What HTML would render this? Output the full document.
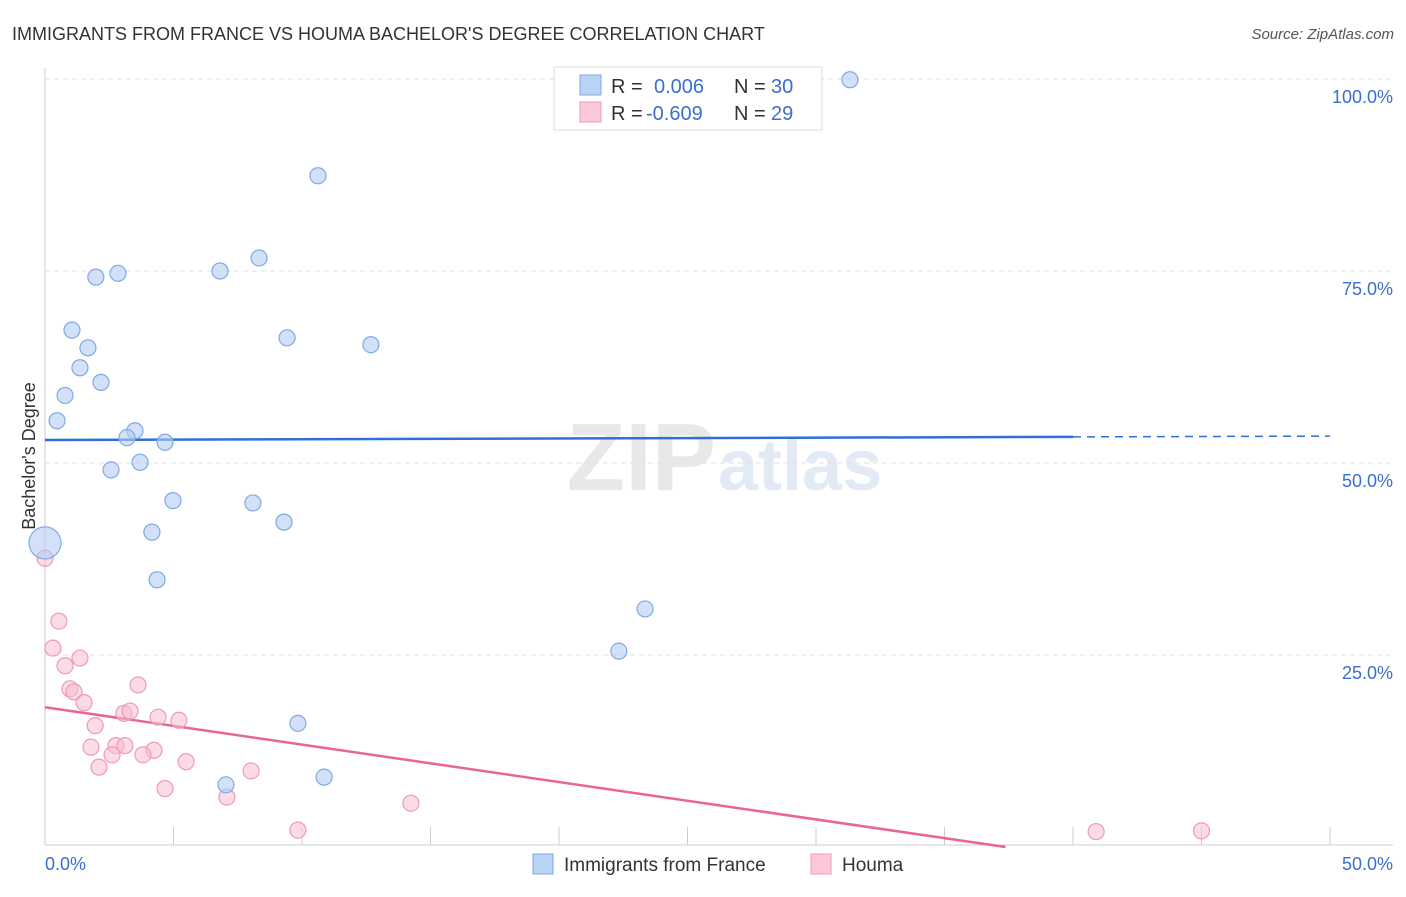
<!DOCTYPE html>
<html><head><meta charset="utf-8"><style>
body{margin:0;background:#fff;font-family:"Liberation Sans",sans-serif}
svg text{font-family:"Liberation Sans",sans-serif}
</style></head><body>
<svg id="chart" width="1406" height="892" xmlns="http://www.w3.org/2000/svg">
<text x="12" y="40" font-size="18" fill="#333">IMMIGRANTS FROM FRANCE VS HOUMA BACHELOR'S DEGREE CORRELATION CHART</text>
<text x="1394" y="39" font-size="15" fill="#555" font-style="italic" text-anchor="end">Source: ZipAtlas.com</text>
<text x="716" y="490" font-size="96" fill="#e8e8e8" font-family="Liberation Serif" text-anchor="end" font-weight="bold">ZIP</text>
<text x="718" y="490" font-size="72" fill="#e2eaf6" font-weight="bold">atlas</text>
<g id="grid"></g>
<line x1="45" y1="68" x2="45" y2="845" stroke="#ccc"/>
<line x1="45" y1="845" x2="1393" y2="845" stroke="#ccc"/>
<text x="35" y="456" font-size="18" fill="#333" text-anchor="middle" transform="rotate(-90 35 456)">Bachelor's Degree</text>
<g id="trend"></g>
<g id="pts"></g>
<g>
<rect x="554" y="67" width="268" height="63" fill="#fff" stroke="#ddd"/>
<rect x="580" y="75" width="21" height="20" fill="#b9d3f5" stroke="#7fa9e6"/>
<rect x="580" y="102" width="21" height="20" fill="#fac8d6" stroke="#f09ab5"/>
<text x="611" y="93" font-size="20" fill="#333">R =</text>
<text x="654" y="93" font-size="20" fill="#3a6fd0">0.006</text>
<text x="734" y="93" font-size="20" fill="#333">N =</text>
<text x="771" y="93" font-size="20" fill="#3a6fd0">30</text>
<text x="611" y="120" font-size="20" fill="#333">R =</text>
<text x="646" y="120" font-size="20" fill="#3a6fd0">-0.609</text>
<text x="734" y="120" font-size="20" fill="#333">N =</text>
<text x="771" y="120" font-size="20" fill="#3a6fd0">29</text>
</g>
<g>
<rect x="533" y="854" width="20" height="20" fill="#b9d3f5" stroke="#7fa9e6"/>
<text x="564" y="871" font-size="19" fill="#333">Immigrants from France</text>
<rect x="811" y="854" width="20" height="20" fill="#fac8d6" stroke="#f09ab5"/>
<text x="842" y="871" font-size="19" fill="#333">Houma</text>
</g>
<text x="45" y="870" font-size="18" fill="#3a6fd0">0.0%</text>
<text x="1393" y="870" font-size="18" fill="#3a6fd0" text-anchor="end">50.0%</text>
</svg>
<script>
const yTicks=[25,50,75,100];
const yTickLabels=["25.0%","50.0%","75.0%","100.0%"];
const xTicks=[5,10,15,20,25,30,35,40,45,50];
const blueX=[31.32,10.62,8.33,6.81,1.98,2.84,1.05,1.67,9.42,12.68,1.36,2.18,0.78,0.47,3.50,3.19,4.67,3.70,2.57,4.98,8.09,9.30,4.16,0,4.36,23.35,22.33,9.84,7.04,10.86];
const blueY=[99.9,87.4,76.7,75.0,74.2,74.7,67.3,65.0,66.3,65.4,62.4,60.5,58.8,55.5,54.2,53.3,52.7,50.1,49.1,45.1,44.8,42.3,41.0,39.6,34.8,31.0,25.5,16.1,8.1,9.1];
const blueR=[8,8,8,8,8,8,8,8,8,8,8,8,8,8,8,8,8,8,8,8,8,8,8,16,8,8,8,8,8,8];
const pinkX=[0,0.54,0.31,1.36,0.78,0.97,1.13,1.52,3.62,1.95,3.07,3.31,4.40,5.21,1.79,2.76,3.11,2.61,4.24,3.81,2.10,5.49,8.02,4.67,7.08,9.84,14.24,40.9,45.0];
const pinkY=[37.6,29.4,25.9,24.6,23.6,20.6,20.2,18.8,21.1,15.8,17.4,17.7,16.9,16.5,13.0,13.2,13.2,12.0,12.6,12.0,10.4,11.1,9.9,7.6,6.5,2.2,5.7,2.0,2.1];
const blueTrend=[53.0,53.4];
const pinkTrend=[18.2,-0.487];
const X=v=>45+v*25.7, Y=v=>847-v*7.68;
const NS="http://www.w3.org/2000/svg";
function mk(p,t,a){const e=document.createElementNS(NS,t);for(const k in a)e.setAttribute(k,a[k]);p.appendChild(e);return e;}
const grid=document.getElementById('grid'),svg=document.getElementById('chart');
yTicks.forEach((t,i)=>{
 const l=mk(grid,'line',{x1:45,x2:1393,y1:Y(t),y2:Y(t),stroke:'#e2e2e2','stroke-dasharray':'5,4'});
 
 
 const tx=mk(grid,'text',{x:1393,y:Y(t)+24,'font-size':18,fill:'#3a6fd0','text-anchor':'end'});
 tx.textContent=yTickLabels[i];
 
 
});
xTicks.forEach(t=>{
 const l=mk(grid,'line',{x1:X(t),x2:X(t),y1:827,y2:845,stroke:'#ccc'});
 
 
});
const tr=document.getElementById('trend');
let b=mk(tr,'line',{x1:X(0),y1:Y(blueTrend[0]),x2:X(40),y2:Y(blueTrend[1]),stroke:'#2f6fd6','stroke-width':2.5});


const bs=(blueTrend[1]-blueTrend[0])/40;
let bd=mk(tr,'line',{x1:X(40),y1:Y(blueTrend[1]),x2:X(50),y2:Y(blueTrend[1]+bs*10),stroke:'#2f6fd6','stroke-width':1.5,'stroke-dasharray':'8,6'});


const xEnd=-pinkTrend[0]/pinkTrend[1];
let p=mk(tr,'line',{x1:X(0),y1:Y(pinkTrend[0]),x2:X(xEnd),y2:Y(0),stroke:'#e8649a','stroke-width':2.5});


const pts=document.getElementById('pts');
pinkX.forEach((x,i)=>{
 const c=mk(pts,'circle',{cx:X(x),cy:Y(pinkY[i]),r:8,fill:'rgba(248,190,208,0.55)',stroke:'#f09ab5','stroke-width':1.2});
 
 
});
blueX.forEach((x,i)=>{
 const c=mk(pts,'circle',{cx:X(x),cy:Y(blueY[i]),r:blueR[i],fill:'rgba(180,205,242,0.6)',stroke:'#7fa9e6','stroke-width':1.2});
 
 
});
</script>
</body></html>
